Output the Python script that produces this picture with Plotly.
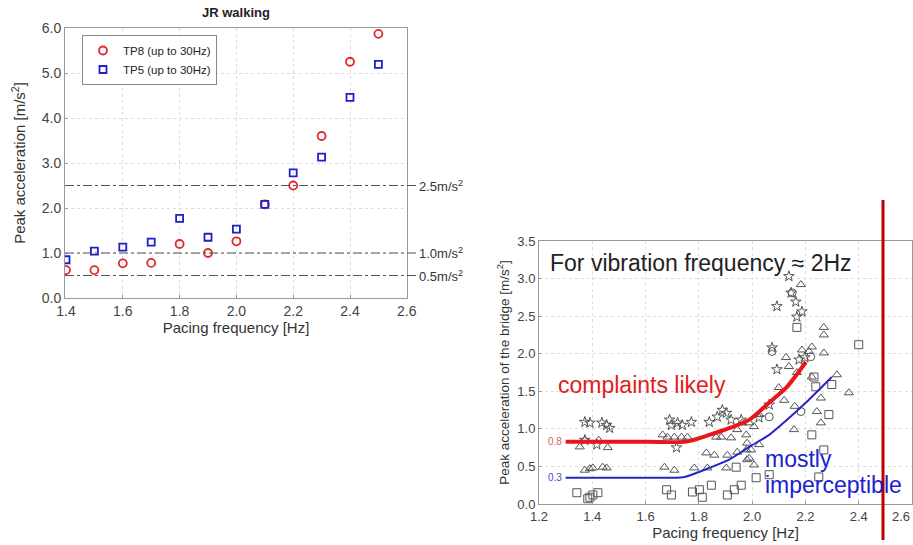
import plotly.graph_objects as go

W, H = 913, 545
FONT = "Arial, Liberation Sans, sans-serif"

# ---- left chart: JR walking ----
freq = [1.4, 1.5, 1.6, 1.7, 1.8, 1.9, 2.0, 2.1, 2.2, 2.3, 2.4, 2.5]
tp8 = [0.62, 0.62, 0.77, 0.78, 1.20, 1.00, 1.26, 2.08, 2.50, 3.60, 5.25, 5.87]
tp5 = [0.85, 1.04, 1.13, 1.24, 1.77, 1.35, 1.53, 2.08, 2.78, 3.13, 4.46, 5.19]
ref_levels = [2.5, 1.0, 0.5]
ref_labels = ["2.5m/s<sup>2</sup>", "1.0m/s<sup>2</sup>", "0.5m/s<sup>2</sup>"]

# ---- right chart: field data, vibration frequency ~2Hz ----
star_x = [1.372, 1.391, 1.436, 1.454, 1.465, 1.372, 1.417,
          1.690, 1.697, 1.720, 1.738, 1.772, 1.716, 1.839, 1.869, 1.888, 1.903, 1.921, 1.959,
          2.138, 2.146, 2.164, 2.093, 2.168, 2.187, 2.075, 2.093, 2.176, 2.198, 2.064, 2.026]
star_y = [1.09, 1.08, 1.08, 1.05, 1.01, 0.85, 0.79,
          1.12, 1.05, 1.08, 1.05, 1.09, 0.75, 1.09, 1.16, 1.25, 1.21, 1.12, 1.12,
          3.03, 2.81, 2.69, 2.63, 2.49, 2.56, 2.08, 1.79, 1.92, 1.95, 1.32, 1.15]
tri_x = [1.353, 1.372, 1.424, 1.458, 1.372, 1.391, 1.402, 1.439, 1.454,
         1.664, 1.682, 1.708, 1.735, 1.757, 1.865, 1.884, 1.921, 1.944, 1.978, 1.981, 1.963, 1.989, 2.007, 2.026,
         1.828, 1.858, 1.907, 1.944, 1.978, 1.996, 2.026, 1.989,
         1.671, 1.708, 1.783, 1.832, 1.903, 1.981, 2.007,
         2.168, 2.224, 2.318, 2.363, 2.258, 2.243, 2.258, 2.157, 2.183, 2.269, 2.269, 2.187, 2.224,
         2.213, 2.269, 2.127, 2.138, 2.100, 2.120, 2.160]
tri_y = [0.76, 0.85, 0.85, 0.75, 0.45, 0.47, 0.48, 0.49, 0.48,
         0.92, 0.89, 0.89, 0.89, 0.89, 0.89, 0.89, 0.88, 0.99, 0.92, 0.81, 1.08, 1.08, 1.03, 1.19,
         0.68, 0.65, 0.65, 0.69, 0.72, 0.72, 0.79, 0.61,
         0.49, 0.45, 0.48, 0.48, 0.48, 0.59, 0.52,
         1.75, 1.69, 1.72, 1.48, 1.41, 1.23, 1.08, 0.99, 2.92, 2.35, 2.25, 2.05, 2.09,
         2.03, 2.01, 1.95, 1.83, 1.55, 1.38, 1.30]
sq_x = [1.342, 1.391, 1.402, 1.421, 1.383,
        1.679, 1.697, 1.776, 1.802, 1.813, 1.847, 1.907, 1.933, 1.959, 2.015, 2.064, 1.940,
        2.232, 2.239, 2.299, 2.288, 2.224, 2.269, 2.250, 2.168, 2.400]
sq_y = [0.15, 0.09, 0.12, 0.15, 0.07,
        0.19, 0.12, 0.16, 0.19, 0.09, 0.25, 0.12, 0.19, 0.25, 0.35, 0.39, 0.49,
        1.69, 1.56, 1.59, 1.19, 0.92, 0.72, 0.36, 2.35, 2.12]
circ_x = [2.183, 2.150, 2.075, 2.064, 2.220]
circ_y = [1.23, 2.81, 2.03, 1.16, 1.96]

red_x = [1.30, 1.55, 1.753, 1.839, 1.914, 1.989, 2.064, 2.131, 2.202]
red_y = [0.83, 0.83, 0.83, 0.92, 1.01, 1.12, 1.35, 1.56, 1.89]
blue_x = [1.30, 1.55, 1.746, 1.839, 1.914, 1.989, 2.064, 2.131, 2.202, 2.299]
blue_y = [0.35, 0.35, 0.36, 0.48, 0.59, 0.76, 0.92, 1.12, 1.35, 1.69]

right_ticks = [1.2, 1.4, 1.6, 1.8, 2.0, 2.2, 2.4, 2.6]


def px(x):
    return x / W


def py(y):
    return 1 - y / H


fig = go.Figure()

fig.add_trace(go.Scatter(x=freq, y=tp8, mode="markers", name="TP8 (up to 30Hz)",
                         marker=dict(symbol="circle-open", size=8, color="#e0282d", line=dict(width=1.8)),
                         xaxis="x", yaxis="y"))
fig.add_trace(go.Scatter(x=freq, y=tp5, mode="markers", name="TP5 (up to 30Hz)",
                         marker=dict(symbol="square-open", size=7, color="#1f1fd0", line=dict(width=1.8)),
                         xaxis="x", yaxis="y"))

gray = "#555555"
for sx, sy, sym in [(star_x, star_y, "star-open"), (tri_x, tri_y, "triangle-up-open"),
                    (sq_x, sq_y, "square-open"), (circ_x, circ_y, "circle-open")]:
    fig.add_trace(go.Scatter(x=sx, y=sy, mode="markers", showlegend=False,
                             marker=dict(symbol=sym, size=8, color=gray, line=dict(width=1)),
                             xaxis="x2", yaxis="y2"))

fig.add_trace(go.Scatter(x=red_x, y=red_y, mode="lines",
                         line=dict(color="#e8161b", width=4, shape="spline", smoothing=0.6),
                         showlegend=False, xaxis="x2", yaxis="y2"))
fig.add_trace(go.Scatter(x=blue_x, y=blue_y, mode="lines",
                         line=dict(color="#2525c8", width=2, shape="spline", smoothing=0.6),
                         showlegend=False, xaxis="x2", yaxis="y2"))

# reference levels on the left chart
shapes = []
annotations = []
for lev, lab in zip(ref_levels, ref_labels):
    shapes.append(dict(type="line", xref="paper", yref="y", x0=px(65), x1=px(416), y0=lev, y1=lev,
                       line=dict(color="#555", width=1.2, dash="dashdot")))
    annotations.append(dict(xref="paper", yref="y", x=px(417), y=lev, text=lab, showarrow=False,
                            xanchor="left", yanchor="middle", font=dict(size=13, color="#333", family=FONT)))

# vertical red marker line
shapes.append(dict(type="line", xref="paper", yref="paper", x0=px(883), x1=px(883), y0=py(200), y1=py(540),
                   line=dict(color="#c00000", width=3)))


def note(x, y, text, size, color, anchor="left"):
    return dict(xref="paper", yref="paper", x=px(x), y=py(y), text=text, showarrow=False,
                xanchor=anchor, yanchor="middle", font=dict(size=size, color=color, family=FONT))


annotations += [
    note(236, 12, "<b>JR walking</b>", 13, "#222", "center"),
    note(548, 263, "For vibration frequency ≈ 2Hz", 23, "#222"),
    note(556, 385, "complaints likely", 23, "#e02020"),
    note(763, 459, "mostly", 23, "#2020d0"),
    note(763, 485, "imperceptible", 23, "#2020d0"),
    # last right-hand tick label sits on the page edge, pulled in like the original
    note(912, 516, f"{right_ticks[-1]:.1f}", 13, "#444", "right"),
    dict(xref="x2", yref="y2", x=1.295, y=red_y[0], text="0.8", showarrow=False, xanchor="right",
         yanchor="middle", font=dict(size=10, color="#e06060", family=FONT)),
    dict(xref="x2", yref="y2", x=1.295, y=blue_y[0], text="0.3", showarrow=False, xanchor="right",
         yanchor="middle", font=dict(size=10, color="#4a4ad8", family=FONT)),
]

axis_common = dict(showline=True, linecolor="#999", linewidth=1, mirror=True, ticks="inside",
                   ticklen=3, tickcolor="#999", showgrid=True, gridcolor="#dddddd", griddash="dot",
                   zeroline=False, tickformat=".1f", automargin=False)

fig.update_layout(
    width=W, height=H, margin=dict(l=0, r=0, t=0, b=0, autoexpand=False),
    paper_bgcolor="white", plot_bgcolor="white",
    font=dict(family=FONT, color="#333"),
    shapes=shapes, annotations=annotations,
    showlegend=True,
    legend=dict(x=px(82), y=py(35), xanchor="left", yanchor="top", bgcolor="white",
                bordercolor="#888", borderwidth=1, font=dict(size=11.5, color="#222"),
                itemwidth=30, tracegroupgap=0),
    xaxis=dict(domain=[px(65), px(407)], range=[1.3965, 2.6007], tick0=1.4, dtick=0.2,
               tickfont=dict(size=14, color="#444"),
               title=dict(text="Pacing frequency [Hz]", font=dict(size=15, color="#333"), standoff=2),
               anchor="y", **axis_common),
    yaxis=dict(domain=[py(298), py(28)], range=[0, 6], dtick=1,
               tickfont=dict(size=14, color="#444"),
               title=dict(text="Peak acceleration [m/s<sup>2</sup>]", font=dict(size=15, color="#333"),
                          standoff=12),
               anchor="x", **axis_common),
    xaxis2=dict(domain=[px(539), px(912)], range=[1.2, 2.6], tickvals=right_ticks[:-1],
                tickfont=dict(size=13, color="#444"),
                title=dict(text="Pacing frequency [Hz]", font=dict(size=15, color="#333"), standoff=4),
                anchor="y2", **axis_common),
    yaxis2=dict(domain=[py(504), py(241)], range=[0, 3.5], dtick=0.5,
                tickfont=dict(size=13, color="#444"),
                title=dict(text="Peak acceleration of the bridge [m/s<sup>2</sup>]",
                           font=dict(size=13.5, color="#333"), standoff=4),
                anchor="x2", **axis_common),
)

# the page body has a default 8px margin; drop it so the figure fills the window
fig.write_html("out.html", config={"displayModeBar": False},
               post_script="document.body.style.margin='0px';")
